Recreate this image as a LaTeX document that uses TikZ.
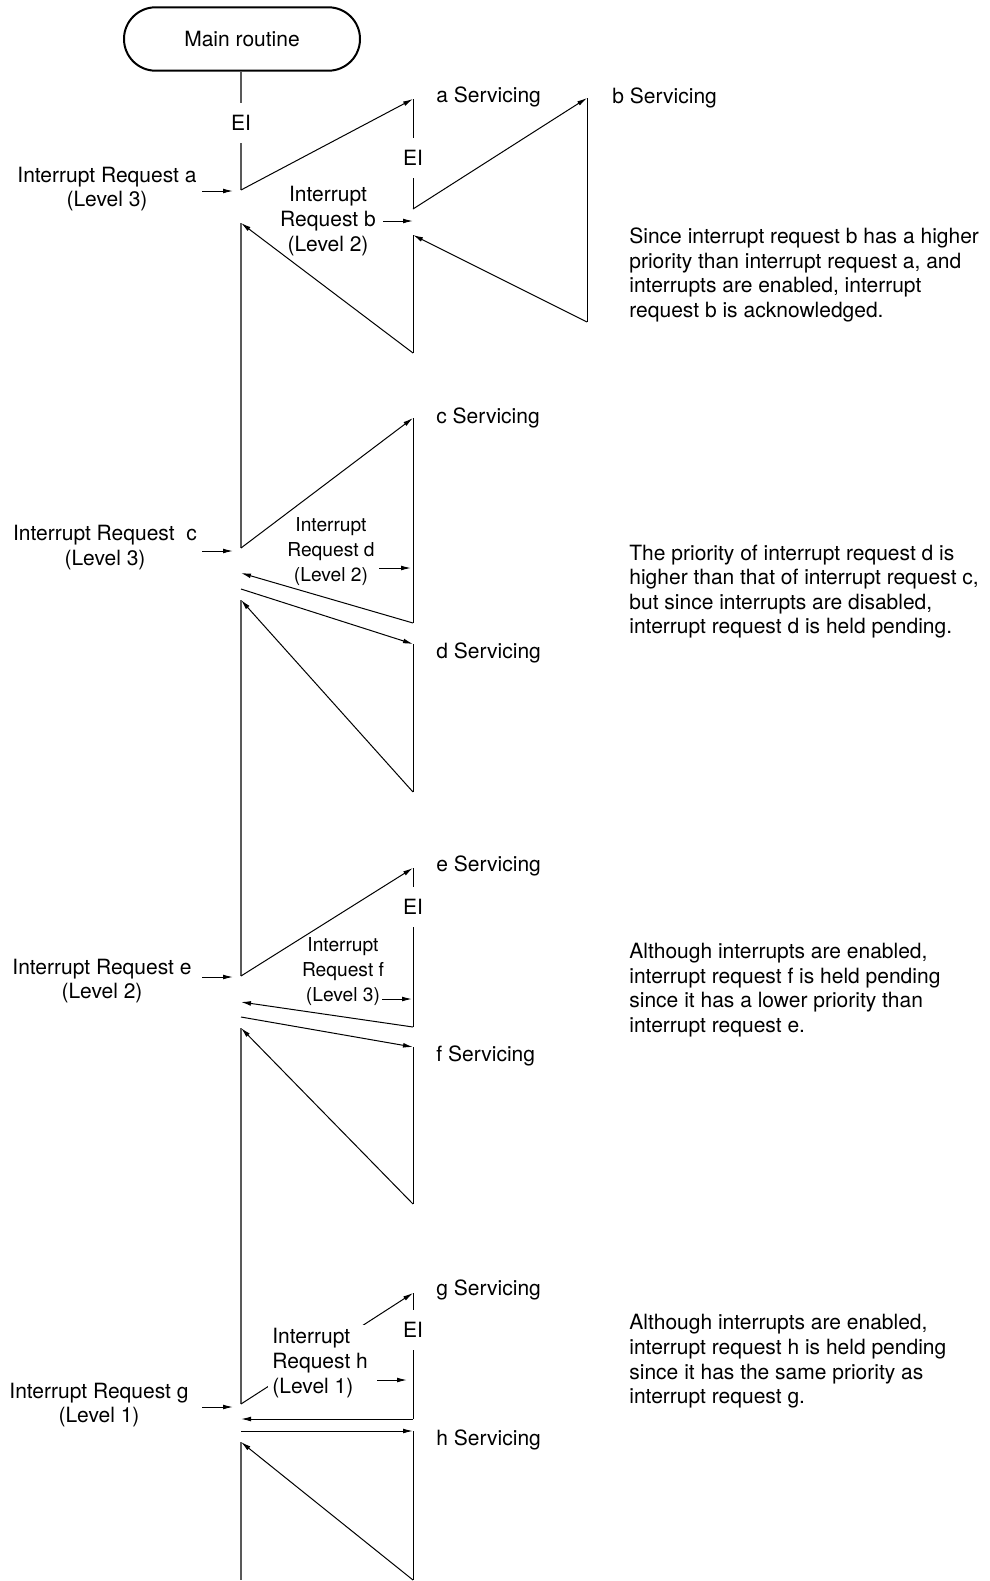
\documentclass[tikz,border=0pt]{standalone}
\usepackage{fontspec}
\setmainfont{TeX Gyre Heros}
\usetikzlibrary{arrows.meta}

\begin{document}
\begin{tikzpicture}[x=0.5pt, y=-0.5pt, >={Latex[length=5pt,width=2.4pt]},
    font=\fontsize{10.5}{12.3}\selectfont,
    main/.style={draw=black!65, line width=0.75pt},
    flow/.style={draw, line width=0.5pt},
    ei/.style={inner xsep=1pt, inner ysep=6.2pt},
    lbl/.style={inner sep=0pt, align=center},
    small/.style={lbl, font=\fontsize{9.6}{12.5}\selectfont},
    serv/.style={inner sep=0pt, anchor=west},
    note/.style={inner sep=0pt, align=left, anchor=west}]
    \useasboundingbox (0,0) rectangle (990,1581);

    \node[draw, line width=1pt, rounded corners=15.8pt, minimum width=118pt, minimum height=31.7pt] (routine) at (242,39) {Main routine};

    % a and b
    \node[ei] (ei1) at (241,123) {EI};
    \coordinate (a0) at (241,190);
    \coordinate (a1) at (413,99);
    \node[ei] (ei2) at (413,158) {EI};
    \coordinate (a2) at (413,209);
    \coordinate (b1) at (587,98);
    \coordinate (b2) at (587,322);
    \coordinate (a3) at (413,235);
    \coordinate (a4) at (413,353);
    \coordinate (m1) at (241,223);
    \coordinate (c0) at (241,548);
    \draw[main] (routine.south -| ei1) -- (ei1) (ei1) -- (a0);
    \draw[flow, ->] (a0) -- (a1);
    \draw[flow] (a1) -- (ei2) (ei2) -- (a2);
    \draw[flow, ->] (a2) -- (b1);
    \draw[flow] (b1) -- (b2);
    \draw[flow, ->] (b2) -- (a3);
    \draw[flow] (a3) -- (a4);
    \draw[flow, ->] (a4) -- (m1);
    \draw[main] (m1) -- (c0);

    \node[lbl] (reqa) at (107,189) {Interrupt Request a\\(Level 3)};
    \coordinate (ia) at (233,191);
    \draw[flow, ->] ([xshift=-15.3pt]ia) -- (ia);
    \node[lbl] (reqb) at (328,221) {Interrupt\\Request b\\(Level 2)};
    \coordinate (ib) at (413,221);
    \draw[flow, ->] ([xshift=-15pt]ib) -- (ib);
    \node[serv] (asv) at (436,97) {a Servicing};
    \node[serv] (bsv) at (612,98) {b Servicing};
    \node[note] (noteb) at (629,275) {Since interrupt request b has a higher\\priority than interrupt request a, and\\interrupts are enabled, interrupt\\request b is acknowledged.};

    % c and d
    \coordinate (c1) at (413,418);
    \coordinate (c2) at (413,623);
    \coordinate (m2) at (241,573);
    \coordinate (m2s) at (241,589);
    \coordinate (d1) at (413,644);
    \coordinate (d2) at (413,792);
    \coordinate (m3) at (241,600);
    \coordinate (e0) at (241,976);
    \draw[flow, ->] (c0) -- (c1);
    \draw[flow] (c1) -- (c2);
    \draw[flow, ->] (c2) -- (m2);
    \draw[flow, ->] (m2s) -- (d1);
    \draw[flow] (d1) -- (d2);
    \draw[flow, ->] (d2) -- (m3);
    \draw[main] (m3) -- (e0);

    \node[lbl] (reqc) at (105,547.5) {Interrupt Request\ \ c\\(Level 3)};
    \coordinate (ic) at (233,551);
    \draw[flow, ->] ([xshift=-15.3pt]ic) -- (ic);
    \node[small] (reqd) at (331,552) {Interrupt\\Request d\\(Level 2)};
    \coordinate (id) at (411,568);
    \draw[flow, ->] ([xshift=-16pt]id) -- (id);
    \node[serv] (csv) at (436,418) {c Servicing};
    \node[serv] (dsv) at (436,653) {d Servicing};
    \node[note] (noted) at (629,591.5) {The priority of interrupt request d is\\higher than that of interrupt request c,\\but since interrupts are disabled,\\interrupt request d is held pending.};

    % e and f
    \coordinate (e1) at (413,868);
    \node[ei] (ei3) at (413,907) {EI};
    \coordinate (e2) at (413,1027);
    \coordinate (m4) at (241,1002);
    \coordinate (m4s) at (241,1017);
    \coordinate (f1) at (413,1047);
    \coordinate (f2) at (413,1204);
    \coordinate (m5) at (241,1028);
    \coordinate (g0) at (241,1404);
    \draw[flow, ->] (e0) -- (e1);
    \draw[flow] (e1) -- (ei3) (ei3) -- (e2);
    \draw[flow, ->] (e2) -- (m4);
    \draw[flow, ->] (m4s) -- (f1);
    \draw[flow] (f1) -- (f2);
    \draw[flow, ->] (f2) -- (m5);
    \draw[main] (m5) -- (g0);

    \node[lbl] (reqe) at (102,981) {Interrupt Request e\\(Level 2)};
    \coordinate (ie) at (233,977);
    \draw[flow, ->] ([xshift=-15.3pt]ie) -- (ie);
    \node[small] (reqf) at (343,972) {Interrupt\\Request f\\(Level 3)};
    \coordinate (iff) at (412,999);
    \draw[flow, ->] ([xshift=-15pt]iff) -- (iff);
    \node[serv] (esv) at (436,866) {e Servicing};
    \node[serv] (fsv) at (436,1056) {f Servicing};
    \node[note] (notef) at (629,990) {Although interrupts are enabled,\\interrupt request f is held pending\\since it has a lower priority than\\interrupt request e.};

    % g and h
    \coordinate (g1) at (413,1293);
    \node[ei] (ei4) at (413,1330) {EI};
    \coordinate (g2) at (413,1419);
    \coordinate (m6) at (241,1419);
    \coordinate (m6s) at (241,1431);
    \coordinate (h1) at (413,1431);
    \coordinate (h2) at (413,1580);
    \coordinate (m7) at (241,1442);
    \coordinate (mend) at (241,1580);
    \draw[flow, ->] (g0) -- (g1);
    \draw[flow] (g1) -- (ei4) (ei4) -- (g2);
    \draw[flow, ->] (g2) -- (m6);
    \draw[flow, ->] (m6s) -- (h1);
    \draw[flow] (h1) -- (h2);
    \draw[flow, ->] (h2) -- (m7);
    \draw[main] (m7) -- (mend);

    \node[lbl] (reqg) at (99,1405) {Interrupt Request g\\(Level 1)};
    \coordinate (ig) at (233,1407);
    \draw[flow, ->] ([xshift=-15.3pt]ig) -- (ig);
    \node[fill=white, inner sep=2pt, align=left, anchor=west] (reqh) at (268,1363) {Interrupt\\Request h\\(Level 1)};
    \coordinate (ih) at (407,1380);
    \draw[flow, ->] ([xshift=-15pt]ih) -- (ih);
    \node[serv] (gsv) at (436,1290) {g Servicing};
    \node[serv] (hsv) at (436,1440) {h Servicing};
    \node[note] (noteh) at (629,1361.5) {Although interrupts are enabled,\\interrupt request h is held pending\\since it has the same priority as\\interrupt request g.};
\end{tikzpicture}
\end{document}
